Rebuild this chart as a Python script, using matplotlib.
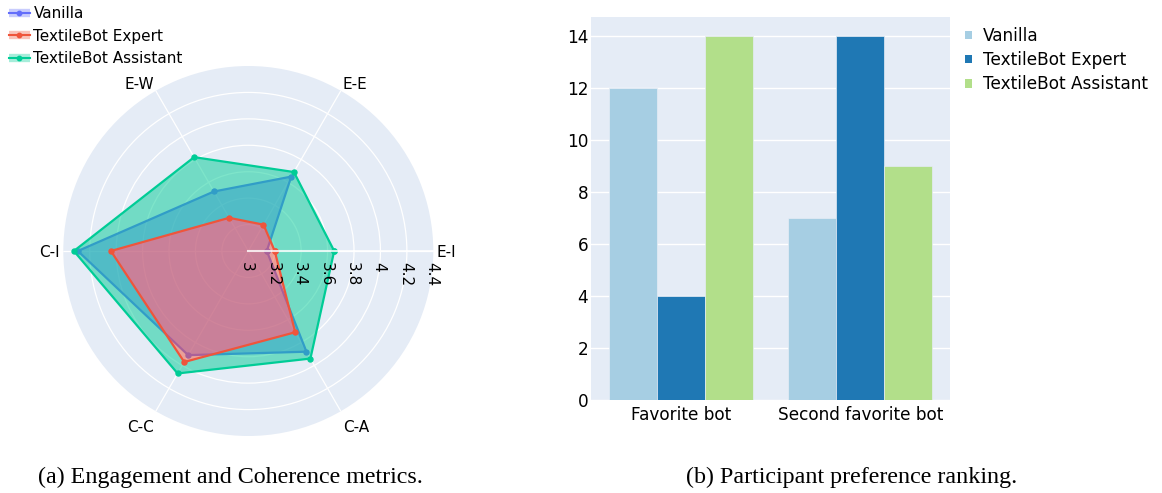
import numpy as np
import matplotlib
matplotlib.use("Agg")
import matplotlib.pyplot as plt
from matplotlib.lines import Line2D
from matplotlib.patches import Patch, PathPatch
from matplotlib.path import Path

# ---------------- data ----------------
radar_categories = ["E-I", "E-E", "E-W", "C-I", "C-C", "C-A"]
vanilla_scores = [3.14, 3.65, 3.52, 4.29, 3.91, 3.88]
expert_scores = [3.20, 3.23, 3.29, 4.04, 3.97, 3.71]
assistant_scores = [3.65, 3.69, 3.82, 4.32, 4.07, 3.94]
radial_ticks = [3, 3.2, 3.4, 3.6, 3.8, 4, 4.2, 4.4]
radial_tick_labels = ["3", "3.2", "3.4", "3.6", "3.8", "4", "4.2", "4.4"]

series_names = ["Vanilla", "TextileBot Expert", "TextileBot Assistant"]

bar_categories = ["Favorite bot", "Second favorite bot"]
bar_vanilla = [12, 7]
bar_expert = [4, 14]
bar_assistant = [14, 9]
bar_ticks = [0, 2, 4, 6, 8, 10, 12, 14]

caption_a = "(a) Engagement and Coherence metrics."
caption_b = "(b) Participant preference ranking."

# ---------------- style ----------------
W, H = 1162, 493
DPI = 100
PT = 72.0 / DPI  # points per pixel
BG = "#E5ECF6"
radar_colors = ["#636efa", "#EF553B", "#00cc96"]
bar_colors = ["#a6cee3", "#1f78b4", "#b2df8a"]
plt.rcParams["font.family"] = ["DejaVu Sans"]

fig = plt.figure(figsize=(W / DPI, H / DPI), dpi=DPI)

# ---------------- radar ----------------
cx, cy, R = 248.3, 251.0, 185.0
ax = fig.add_axes([(cx - R) / W, 1 - (cy + R) / H, 2 * R / W, 2 * R / H],
                  projection="polar")
ax.set_facecolor(BG)
theta = np.deg2rad(np.arange(len(radar_categories)) * 60.0)
theta_c = np.append(theta, theta[0])
rmin, rmax = radial_ticks[0], radial_ticks[-1]
ax.set_ylim(rmin, rmax)
ax.set_xticks(theta)
ax.set_xticklabels([])
ax.set_yticks(radial_ticks[1:-1])
ax.set_yticklabels([])
ax.tick_params(length=0)
ax.grid(True, color="white", linewidth=0.9)
ax.set_axisbelow(True)
ax.spines["polar"].set_visible(False)

# angular labels (offsets in pixels: dx, dy(up), ha)
label_offsets = [(3.5, -5.8, "left"), (2.0, 1.5, "left"), (-1.8, 1.5, "right"),
                 (-4.0, -5.8, "right"), (-1.5, -20.5, "right"), (1.9, -20.5, "left")]
for t, lab, (dx, dy, ha) in zip(theta, radar_categories, label_offsets):
    ax.annotate(lab, xy=(t, rmax), xytext=(dx * PT, dy * PT),
                textcoords="offset points", ha=ha, va="baseline",
                fontsize=11, color="black", annotation_clip=False)

def closed(v):
    return np.append(v, v[0])

v_c = closed(vanilla_scores)
e_c = closed(expert_scores)
a_c = closed(assistant_scores)

# Vanilla (fill to self)
ax.fill(theta_c, v_c, color=radar_colors[0], alpha=0.5, lw=0, zorder=2)
ax.plot(theta_c, v_c, color=radar_colors[0], lw=1.6, marker="o", ms=3.6, zorder=3)
# Assistant fill "to next": region between assistant and expert outlines
verts = list(zip(theta_c, a_c)) + list(zip(theta_c[::-1], e_c[::-1]))
codes = ([Path.MOVETO] + [Path.LINETO] * (len(theta_c) - 2) + [Path.CLOSEPOLY]) * 2
ring = PathPatch(Path(verts, codes), facecolor=radar_colors[2], alpha=0.5,
                 lw=0, transform=ax.transData, zorder=3.5)
ax.add_patch(ring)
# Expert (fill to self)
ax.fill(theta_c, e_c, color=radar_colors[1], alpha=0.5, lw=0, zorder=4)
ax.plot(theta_c, e_c, color=radar_colors[1], lw=1.6, marker="o", ms=3.6, zorder=5)
# Assistant line
ax.plot(theta_c, a_c, color=radar_colors[2], lw=1.6, marker="o", ms=3.6, zorder=7)

# radial axis line + tick labels above traces
ax.plot([0, 0], [rmin, rmax], color="white", lw=1.5, alpha=0.8, zorder=8, clip_on=False)
for r, lab in zip(radial_ticks, radial_tick_labels):
    ax.annotate(lab, xy=(0, r), xytext=(-1.5 * PT, -11 * PT), textcoords="offset points",
                rotation=-90, ha="center", va="top", fontsize=11, color="black",
                zorder=9, annotation_clip=False)

radar_handles = []
for c in radar_colors:
    radar_handles.append((Line2D([], [], color=c, lw=6, alpha=0.35, solid_capstyle="butt"),
                          Line2D([], [], color=c, lw=1.5, marker="o", ms=3.2)))
fig.legend(radar_handles, series_names, loc="upper left",
           bbox_to_anchor=(9 / W, 1 - 6 / H), frameon=False, fontsize=11,
           borderpad=0, borderaxespad=0, handlelength=1.35, handletextpad=0.25,
           labelspacing=0.5)

# ---------------- bars ----------------
left, right, top, bottom = 591, 950, 17, 400
ax2 = fig.add_axes([left / W, 1 - bottom / H, (right - left) / W, (bottom - top) / H])
ax2.set_facecolor(BG)
x = np.arange(len(bar_categories))
w = 0.8 / 3
for i, (vals, c, lab) in enumerate(zip([bar_vanilla, bar_expert, bar_assistant],
                                       bar_colors, series_names)):
    ax2.bar(x + (i - 1) * w, vals, width=w, color=c, label=lab, zorder=2,
            edgecolor=BG, linewidth=0.5)
ax2.set_xlim(-0.5, 1.5)
ax2.set_ylim(0, 14.74)
ax2.set_yticks(bar_ticks)
ax2.set_yticklabels([str(t) for t in bar_ticks], fontsize=12.2)
ax2.set_xticks(x)
ax2.set_xticklabels(bar_categories, fontsize=12.2)
ax2.tick_params(axis="both", length=0, colors="black")
ax2.tick_params(axis="y", pad=2)
ax2.tick_params(axis="x", pad=4)
ax2.yaxis.grid(True, color="white", linewidth=1)
ax2.set_axisbelow(True)
for s in ax2.spines.values():
    s.set_visible(False)

bar_handles = [Patch(facecolor=c, edgecolor="none") for c in bar_colors]
fig.legend(bar_handles, series_names, loc="upper left",
           bbox_to_anchor=(965 / W, 1 - 27 / H), frameon=False, fontsize=12.2,
           borderpad=0, borderaxespad=0, handlelength=0.42, handleheight=0.42,
           handletextpad=0.65, labelspacing=0.36)

# ---------------- captions ----------------
fig.text(230 / W, 1 - 477 / H, caption_a, ha="center", va="center",
         fontsize=17.3, family=["Liberation Serif", "DejaVu Serif"])
fig.text(852 / W, 1 - 477 / H, caption_b, ha="center", va="center",
         fontsize=17.3, family=["Liberation Serif", "DejaVu Serif"])

fig.savefig("out.png", dpi=DPI, facecolor="white")
